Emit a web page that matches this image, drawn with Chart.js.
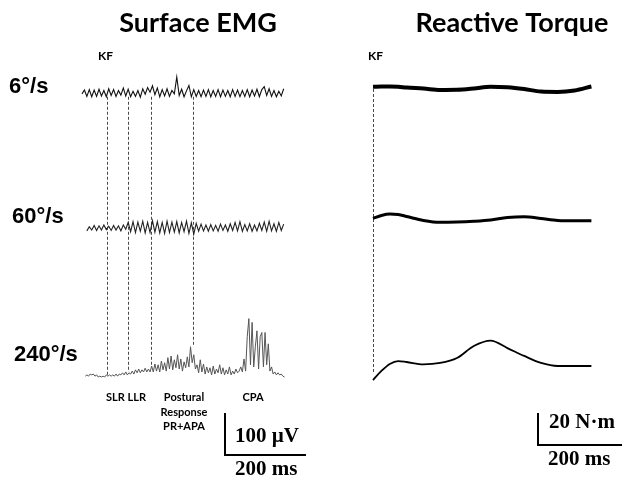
<!DOCTYPE html>
<html><head><meta charset="utf-8">
<script src="https://cdn.jsdelivr.net/npm/chart.js@4"></script>
<style>html,body{margin:0;padding:0;background:#fff}#wrap{position:relative;width:622px;height:479px}</style>
</head><body><div id="wrap"><canvas id="c"></canvas></div>
<script>
// ---- data ----
const rowLabels = ["6°/s", "60°/s", "240°/s"];
const panelTitles = ["Surface EMG", "Reactive Torque"];
const phaseLabels = ["SLR LLR", "Postural\nResponse\nPR+APA", "CPA"];
const eventTimesMs = [62, 114, 170, 274];           // EMG dashed markers (ms)
const emgStepMs = 6, emg240StepMs = 4;
const emgStartMs = [0, 12, 8];
// EMG amplitudes (µV, relative to each row baseline)
const emg6 = [-2,7,-8,8,-9,7,-8,9,-7,6,
  -9,10,-6,8,-8,6,-5,12,-7,9,
  -9,4,-8,6,-10,10,-3,13,2,17,
  -4,12,-9,8,-7,10,-8,6,-2,38,
  -6,9,-9,5,18,-9,8,-8,6,-9,
  7,-8,8,-9,6,-8,8,-9,7,-8,
  6,-9,8,-8,7,-9,6,-8,8,-9,
  7,-7,9,-9,8,15,-6,10,-8,6,
  -9,4,-7,10];
const emg60 = [-8,2,-6,5,-7,4,-6,6,-5,3,
  -7,5,-6,4,-8,6,-4,12,-10,14,
  -12,13,-9,15,-13,12,-12,16,-11,14,
  -13,12,-14,15,-12,13,-11,14,-13,12,
  -10,15,-14,11,-16,10,-9,8,-8,6,
  -9,7,-8,5,-9,8,-7,6,-9,9,
  -7,12,-8,14,-9,7,-8,9,-9,6,
  -8,10,-7,13,-9,15,-8,9,-9,12,
  -7,8];
const emg240 = [2,5,2,7,5,7,2,5,0,2,
  0,2,0,5,2,5,2,5,2,7,
  2,7,5,10,5,12,5,10,7,14,
  7,17,10,19,10,17,12,21,12,19,
  12,26,12,31,14,29,12,38,17,34,
  14,46,19,50,17,41,22,53,19,43,
  14,36,22,48,24,72,34,53,19,29,
  10,41,12,31,7,24,10,22,5,26,
  7,19,10,29,7,22,5,17,7,24,
  5,14,7,19,10,14,24,12,43,14,
  96,139,29,130,24,72,110,19,96,106,
  24,106,29,79,14,24,7,12,5,10,
  5,7,2,0];
// Reactive torque (N·m, relative to row baseline)
const torqueTimeMs = [0,20,40,60,80,120,160,200,240,280,320,360,400,440,480,520];
const torque6 = [1.4,1.6,1.6,1.4,0.9,0.3,-0.6,-0.5,0.3,1.4,1.1,0,-1.6,-1.8,-0.9,1.6];
const torque60 = [0.4,2.2,3.1,2.8,1.6,-0.9,-2.1,-1.9,-1.4,-0.6,0.9,1.4,0.3,-0.9,-1.1,-1.1];
const torque240 = [-8.8,-3.1,1.3,3.1,2.5,1.0,1.9,5.0,12.5,15.9,11.2,6.3,1.9,0,0,0];
const scaleBars = {emgUV: 100, emgMs: 200, torqueNm: 20, torqueMs: 200};

// ---- layout (pixels) ----
const W = 622, H = 479;
function placeX(px0, ppu){ return {min: -px0/ppu, max: (W-px0)/ppu}; }
function placeY(base, ppu){ return {min: -(H-base)/ppu, max: base/ppu}; }
const hid = (o) => Object.assign({type:'linear', display:false}, o);
const emgPPX = 0.405, emgPPY = 0.42, tqPPX = 0.42, tqPPY = 1.6;
const scales = {
  xE: hid(placeX(82, emgPPX)),
  xT: hid(placeX(373, tqPPX)),
  yE6: hid(placeY(93, emgPPY)),
  yE60: hid(placeY(227.5, emgPPY)),
  yE240: hid(placeY(377, emgPPY)),
  yT6: hid(placeY(89, tqPPY)),
  yT60: hid(placeY(219, tqPPY)),
  yT240: hid(placeY(366, tqPPY))
};
const emgPts = (arr, start, step) => arr.map((v,i)=>({x:start+i*step, y:v}));
const tqPts = (arr) => arr.map((v,i)=>({x:torqueTimeMs[i], y:v}));
const base = {pointRadius:0, fill:false, clip:false, tension:0};
const smooth = {cubicInterpolationMode:'monotone'};
const datasets = [
  Object.assign({}, base, {label:'EMG 6', data:emgPts(emg6, emgStartMs[0], emgStepMs), xAxisID:'xE', yAxisID:'yE6', borderColor:'#111', borderWidth:1.1}),
  Object.assign({}, base, {label:'EMG 60', data:emgPts(emg60, emgStartMs[1], emgStepMs), xAxisID:'xE', yAxisID:'yE60', borderColor:'#222', borderWidth:1.1}),
  Object.assign({}, base, {label:'EMG 240', data:emgPts(emg240, emgStartMs[2], emg240StepMs), xAxisID:'xE', yAxisID:'yE240', borderColor:'#555', borderWidth:1}),
  Object.assign({}, base, smooth, {label:'Torque 6', data:tqPts(torque6), xAxisID:'xT', yAxisID:'yT6', borderColor:'#000', borderWidth:4}),
  Object.assign({}, base, smooth, {label:'Torque 60', data:tqPts(torque60), xAxisID:'xT', yAxisID:'yT60', borderColor:'#000', borderWidth:3}),
  Object.assign({}, base, smooth, {label:'Torque 240', data:tqPts(torque240), xAxisID:'xT', yAxisID:'yT240', borderColor:'#000', borderWidth:1.8})
];

const decor = {
  id:'decor',
  beforeDatasetsDraw(chart){
    const c = chart.ctx, s = chart.scales;
    c.save();
    c.strokeStyle = '#333'; c.lineWidth = 0.9; c.setLineDash([3,2]);
    eventTimesMs.forEach(t => {
      const x = Math.round(s.xE.getPixelForValue(t)) + 0.5;
      const idx = (t - emgStartMs[2]) / emg240StepMs;
      let m = 0;
      for (let k = Math.floor(idx)-1; k <= Math.ceil(idx)+1; k++) if (emg240[k] !== undefined) m = Math.max(m, emg240[k]);
      c.beginPath();
      c.moveTo(x, s.yE6.getPixelForValue(-9));
      c.lineTo(x, s.yE240.getPixelForValue(m));
      c.stroke();
    });
    const xt = Math.round(s.xT.getPixelForValue(0)) + 0.5;
    c.beginPath();
    c.moveTo(xt, s.yT6.getPixelForValue(0));
    c.lineTo(xt, s.yT240.getPixelForValue(-4));
    c.stroke();
    c.restore();
  },
  afterDatasetsDraw(chart){
    const c = chart.ctx, s = chart.scales;
    c.save();
    c.fillStyle = '#000'; c.textBaseline = 'alphabetic';
    c.font = 'bold 27px Lato'; c.textAlign = 'center';
    c.fillText(panelTitles[0], 198, 32);
    c.fillText(panelTitles[1], 512, 32);
    c.font = 'bold 12px Lato'; c.textAlign = 'left';
    c.fillText('KF', 98, 60);
    c.fillText('KF', 368, 60);
    c.font = 'bold 22px "Liberation Sans"';
    c.fillText(rowLabels[0], 9, 93);
    c.fillText(rowLabels[1], 12, 223);
    c.fillText(rowLabels[2], 14, 361);
    c.font = 'bold 11px Lato';
    c.textAlign = 'left';
    c.fillText(phaseLabels[0], 106, 401);
    c.textAlign = 'center';
    phaseLabels[1].split('\n').forEach((ln, i) => c.fillText(ln, 184, 401 + i*14.5));
    c.fillText(phaseLabels[2], 253, 401);
    c.strokeStyle = '#000'; c.lineWidth = 2; c.setLineDash([]);
    const ex = 225, ey = 455;
    const eh = s.yE240.getPixelForValue(0) - s.yE240.getPixelForValue(scaleBars.emgUV);
    const ew = s.xE.getPixelForValue(scaleBars.emgMs) - s.xE.getPixelForValue(0);
    c.beginPath(); c.moveTo(ex, ey - eh); c.lineTo(ex, ey); c.lineTo(ex + ew, ey); c.stroke();
    const tx = 538, ty = 445;
    const th = s.yT240.getPixelForValue(0) - s.yT240.getPixelForValue(scaleBars.torqueNm);
    const tw = s.xT.getPixelForValue(scaleBars.torqueMs) - s.xT.getPixelForValue(0);
    c.beginPath(); c.moveTo(tx, ty - th); c.lineTo(tx, ty); c.lineTo(tx + tw, ty); c.stroke();
    c.font = 'bold 21px "Liberation Serif"'; c.textAlign = 'left';
    c.fillText(scaleBars.emgUV + ' µV', 235, 442);
    c.fillText(scaleBars.emgMs + ' ms', 235, 475);
    c.fillText(scaleBars.torqueNm + ' N·m', 549, 428);
    c.fillText(scaleBars.torqueMs + ' ms', 548, 465);
    c.restore();
  }
};

new Chart(document.getElementById('c'), {
  type: 'line',
  data: {datasets},
  options: {
    responsive: true, maintainAspectRatio: false, animation: false,
    layout: {padding: 0},
    scales,
    plugins: {legend:{display:false}, tooltip:{enabled:false}, title:{display:false}}
  },
  plugins: [decor]
});
</script></body></html>
